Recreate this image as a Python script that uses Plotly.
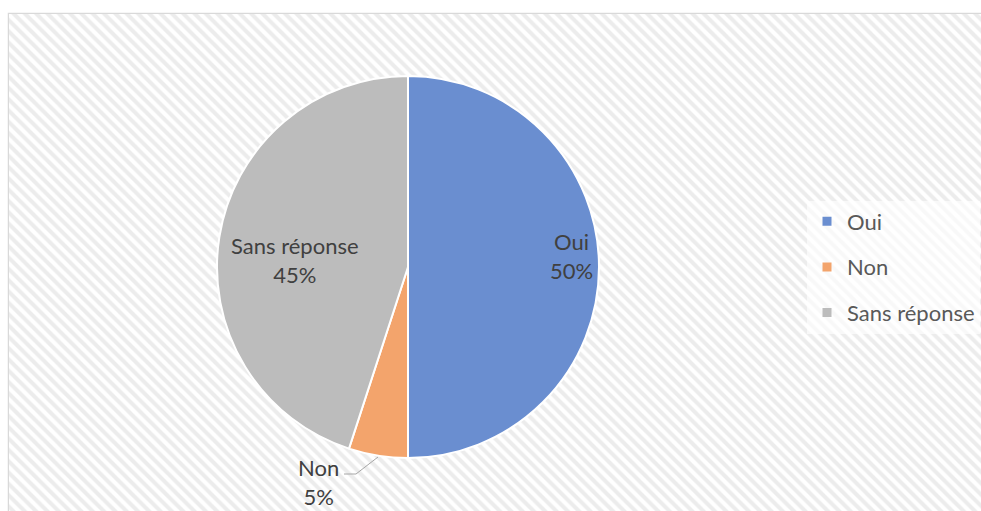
import plotly.graph_objects as go

# ---- data ----
labels = ["Oui", "Non", "Sans réponse"]
values = [50, 5, 45]
colors = ["#6A8ED0", "#F3A46C", "#BCBCBC"]

W, H = 981, 511
FONT = "Lato"
TXT = "#404040"

def px(x):
    return x / W

def py(y):
    return 1 - y / H

fig = go.Figure()

# hatched chart-area background
fig.add_trace(go.Scatter(
    x=[px(9), 1.01, 1.01, px(9), px(9)],
    y=[py(14), py(14), -0.01, -0.01, py(14)],
    mode="lines", fill="toself", line=dict(width=0),
    fillcolor="white",
    fillpattern=dict(shape="\\", fgcolor="#DADADA", bgcolor="white",
                     size=8, solidity=0.5),
    hoverinfo="skip", showlegend=False,
))

# legend entries
for lab, col in zip(labels, colors):
    fig.add_trace(go.Scatter(
        x=[None], y=[None], mode="markers", name=lab,
        marker=dict(symbol="square", size=9, color=col),
        legendgroup=lab, showlegend=True,
    ))

pct = [f"{round(100 * v / sum(values))}%" for v in values]

fig.add_trace(go.Pie(
    labels=labels, values=values, sort=False, direction="clockwise",
    rotation=0,
    marker=dict(colors=colors, line=dict(color="white", width=2)),
    textinfo="none", hoverinfo="label+percent", showlegend=False,
    domain=dict(x=[px(217), px(599)], y=[py(458), py(76)]),
))

# data labels
label_pos = {"Oui": (571, 256), "Sans réponse": (295, 260), "Non": (318, 482)}
for lab, p in zip(labels, pct):
    x, y = label_pos[lab]
    fig.add_annotation(
        x=px(x), y=py(y), xref="paper", yref="paper",
        text=f"{lab}<br>{p}", showarrow=False,
        font=dict(family=FONT, size=22, color=TXT),
        xanchor="center", yanchor="middle",
    )

# leader line for "Non"
fig.add_shape(
    type="path", xref="paper", yref="paper",
    path=f"M {px(378)} {py(457)} L {px(356)} {py(474)} L {px(344)} {py(474)}",
    line=dict(color="#A6A6A6", width=1),
)

# chart border
fig.add_shape(
    type="rect", xref="paper", yref="paper",
    x0=px(8.5), y0=-0.05, x1=1.05, y1=py(13.5),
    line=dict(color="#D9D9D9", width=1.5), fillcolor="rgba(0,0,0,0)",
    layer="below",
)

fig.update_layout(
    width=W, height=H,
    margin=dict(l=0, r=0, t=0, b=0),
    paper_bgcolor="white", plot_bgcolor="rgba(0,0,0,0)",
    xaxis=dict(visible=False, range=[0, 1], domain=[0, 1], fixedrange=True),
    yaxis=dict(visible=False, range=[0, 1], domain=[0, 1], fixedrange=True),
    font=dict(family=FONT, size=22, color=TXT),
    legend=dict(
        x=px(807), y=py(267), xanchor="left", yanchor="middle",
        bgcolor="rgba(255,255,255,0.65)", borderwidth=0,
        font=dict(family=FONT, size=22, color="#595959"),
        tracegroupgap=14, itemwidth=30,
    ),
    showlegend=True,
)

fig.write_html(
    "out.html",
    config={"displayModeBar": False},
    post_script="document.body.style.margin='0';document.body.style.overflow='hidden';",
)
